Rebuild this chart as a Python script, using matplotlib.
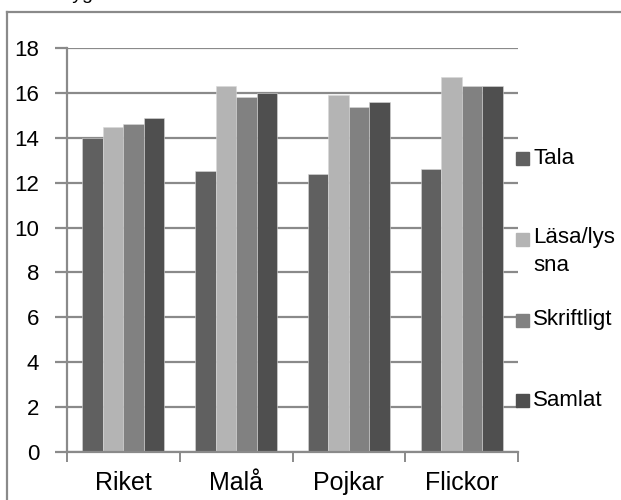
import numpy as np
import matplotlib
matplotlib.use("Agg")
import matplotlib.pyplot as plt
from matplotlib.patches import Rectangle
from matplotlib.lines import Line2D

plt.rcParams['font.family'] = ['Liberation Sans', 'DejaVu Sans']

categories = ['Riket', 'Malå', 'Pojkar', 'Flickor']
series = ['Tala', 'Läsa/lys\nsna', 'Skriftligt', 'Samlat']
tala = [14.0, 12.5, 12.4, 12.6]
lasa = [14.5, 16.3, 15.9, 16.7]
skriftligt = [14.6, 15.8, 15.35, 16.3]
samlat = [14.9, 16.0, 15.6, 16.3]
values = [tala, lasa, skriftligt, samlat]
colors = ['#606060', '#b4b4b4', '#818181', '#4f4f4f']

W, H = 621, 500
fig = plt.figure(figsize=(W / 100, H / 100), dpi=100)
ax = fig.add_axes([67 / W, 1 - 452 / H, (518 - 67) / W, (452 - 48) / H])

x = np.arange(len(categories))
bw = 0.182
for i, (vals, c) in enumerate(zip(values, colors)):
    ax.bar(x + (i - 1.5) * bw, vals, bw, color=c, edgecolor='#d8d8d8',
           linewidth=0.4, zorder=2)

ax.set_xlim(-0.5, 3.5)
ax.set_ylim(0, 18)
ax.set_yticks(np.arange(0, 19, 2))
ax.yaxis.grid(True, color='#8a8a8a', linewidth=1.6, zorder=0)
ax.set_axisbelow(True)
ax.set_xticks(np.arange(-0.5, 4, 1))
ax.set_xticklabels([])
ax.set_xticks(x, minor=True)
ax.set_xticklabels(categories, minor=True, fontsize=18)
ax.tick_params(axis='x', which='minor', length=0, pad=14)
ax.tick_params(axis='x', which='major', length=7, width=1.4, color='#8a8a8a')
ax.tick_params(axis='y', length=9, width=1.6, color='#8a8a8a', labelsize=16, pad=11)
for s in ['top', 'right']:
    ax.spines[s].set_visible(False)
ax.spines['left'].set_color('#8a8a8a')
ax.spines['left'].set_linewidth(1.6)
ax.spines['bottom'].set_color('#8a8a8a')
ax.spines['bottom'].set_linewidth(1.6)

# legend
leg_y = [158, 239, 320, 400]
for lbl, c, yc in zip(series, colors, leg_y):
    fig.patches.append(Rectangle((516 / W, 1 - (yc + 6.5) / H), 13 / W, 13 / H,
                                 color=c, transform=fig.transFigure))
    if '\n' in lbl:
        fig.text(533 / W, 1 - (yc - 12) / H, lbl, fontsize=16, va='top',
                 ha='left', linespacing=1.45)
    else:
        fig.text(533 / W, 1 - yc / H, lbl, fontsize=16, va='center', ha='left')

# outer frame of the chart area
fig.add_artist(Line2D([6.5 / W, 6.5 / W], [0, 1 - 12 / H], color='#8a8a8a',
                      linewidth=1.6, transform=fig.transFigure))
fig.add_artist(Line2D([6.5 / W, 1], [1 - 12 / H, 1 - 12 / H], color='#8a8a8a',
                      linewidth=1.6, transform=fig.transFigure))
fig.text(93 / W, 1 + 1 / H, 'Betyg', fontsize=14, ha='right', va='baseline')

fig.savefig('out.png', dpi=100)
